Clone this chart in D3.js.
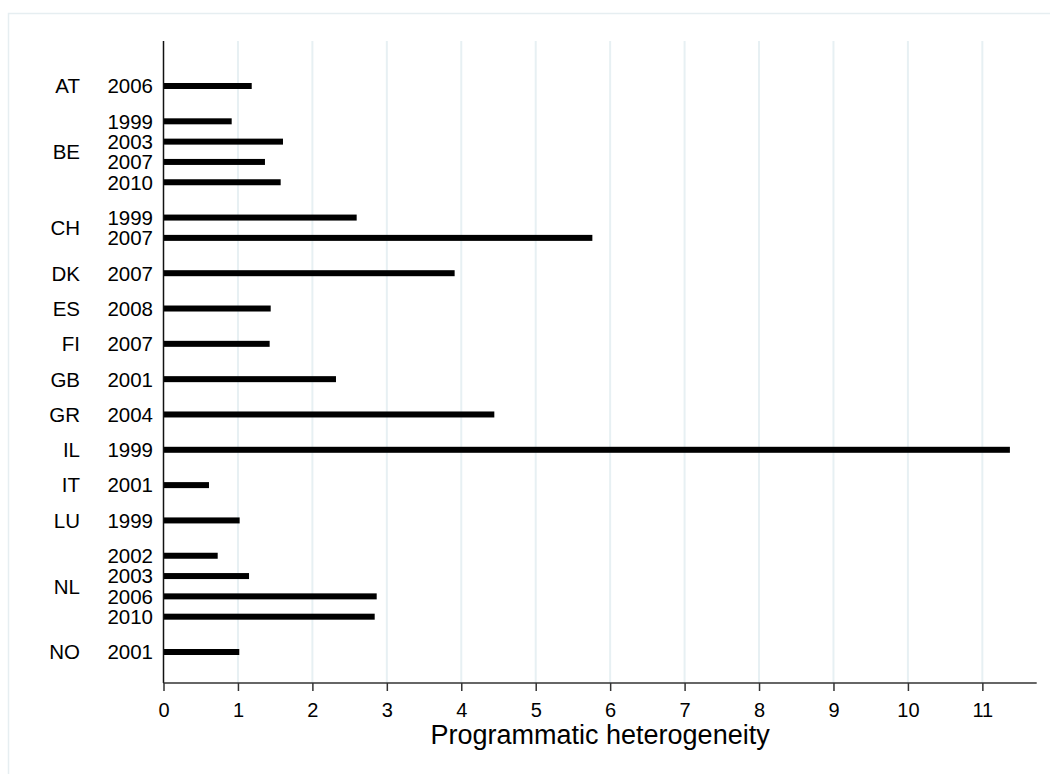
<!DOCTYPE html>
<html>
<head>
<meta charset="utf-8">
<script src="https://cdn.jsdelivr.net/npm/d3@7"></script>
<style>
  html, body { margin: 0; padding: 0; background: #fff; }
  svg { display: block; font-family: "Liberation Sans", Arial, sans-serif; }
</style>
</head>
<body>
<svg id="chart" width="1050" height="774"></svg>
<script>
// ---- data ----
const countries = ["AT","BE","BE","BE","BE","CH","CH","DK","ES","FI","GB","GR","IL","IT","LU","NL","NL","NL","NL","NO"];
const years     = ["2006","1999","2003","2007","2010","1999","2007","2007","2008","2007","2001","2004","1999","2001","1999","2002","2003","2006","2010","2001"];
const values    = [1.185, 0.916, 1.605, 1.363, 1.574, 2.595, 5.761, 3.911, 1.44, 1.426, 2.317, 4.444, 11.37, 0.611, 1.023, 0.728, 1.149, 2.864, 2.837, 1.018];
const xTicks    = [0,1,2,3,4,5,6,7,8,9,10,11];
const xTitle    = "Programmatic heterogeneity";

(function () {
// ---- layout ----
const svg = d3.select("#chart");
const pLeft = 163.5, pRight = 1036.7, pTop = 41, pBottom = 683;
const groupGap = 1.739; // slot units between countries

// slot positions
const rows = countries.map((c, i) => ({country: c, year: years[i], value: values[i]}));
let idx = 0;
rows.forEach((r, i) => {
  if (i > 0) idx += (r.country === rows[i-1].country) ? 1 : groupGap;
  r.pos = idx;
});

const x = d3.scaleLinear().domain([0, 11.73]).range([pLeft, pRight]);
const y = d3.scaleLinear().domain([0, idx]).range([86, 652]);

// outer frame
svg.append("rect").attr("x", 8.5).attr("y", 13.5).attr("width", 1100).attr("height", 800)
  .attr("fill", "none").attr("stroke", "#e6eef1").attr("stroke-width", 1.5);

// gridlines
svg.append("g").selectAll("line").data(xTicks.filter(t => t > 0)).join("line")
  .attr("x1", d => x(d)).attr("x2", d => x(d))
  .attr("y1", pTop).attr("y2", pBottom)
  .attr("stroke", "#e7f0f3").attr("stroke-width", 2);

// bars
const barH = 6;
svg.append("g").selectAll("rect").data(rows).join("rect")
  .attr("x", x(0)).attr("y", d => y(d.pos) - barH/2)
  .attr("width", d => x(d.value) - x(0)).attr("height", barH)
  .attr("fill", "#000");

// y axis line
svg.append("line").attr("x1", pLeft).attr("x2", pLeft).attr("y1", pTop).attr("y2", pBottom)
  .attr("stroke", "#111").attr("stroke-width", 1.5);

// x axis
const xAxis = d3.axisBottom(x).tickValues(xTicks).tickSize(8).tickPadding(12).tickFormat(d3.format("d"));
const gx = svg.append("g").attr("transform", `translate(0,${pBottom})`).call(xAxis);
gx.select(".domain").attr("stroke", "#333").attr("stroke-width", 1.5).attr("d", `M${pLeft},0H${pRight}`);
gx.selectAll(".tick line").attr("stroke", "#333").attr("stroke-width", 1.5);
gx.selectAll(".tick text").attr("font-size", 20).attr("fill", "#000")
  .attr("font-family", "'Liberation Sans', Arial, sans-serif");

// x title
svg.append("text").attr("x", (pLeft + pRight) / 2).attr("y", 744)
  .attr("text-anchor", "middle").attr("font-size", 27).attr("fill", "#000").text(xTitle);

// year labels
svg.append("g").selectAll("text").data(rows).join("text")
  .attr("x", 153).attr("y", d => y(d.pos)).attr("dy", "0.36em")
  .attr("text-anchor", "end").attr("font-size", 20.5).attr("fill", "#000")
  .text(d => d.year);

// country labels
const groups = d3.groups(rows, d => d.country).map(([c, rs]) => ({
  country: c, pos: (d3.min(rs, r => r.pos) + d3.max(rs, r => r.pos)) / 2
}));
svg.append("g").selectAll("text").data(groups).join("text")
  .attr("x", 80).attr("y", d => y(d.pos)).attr("dy", "0.36em")
  .attr("text-anchor", "end").attr("font-size", 20.5).attr("fill", "#000")
  .text(d => d.country);
})();
</script>
</body>
</html>
